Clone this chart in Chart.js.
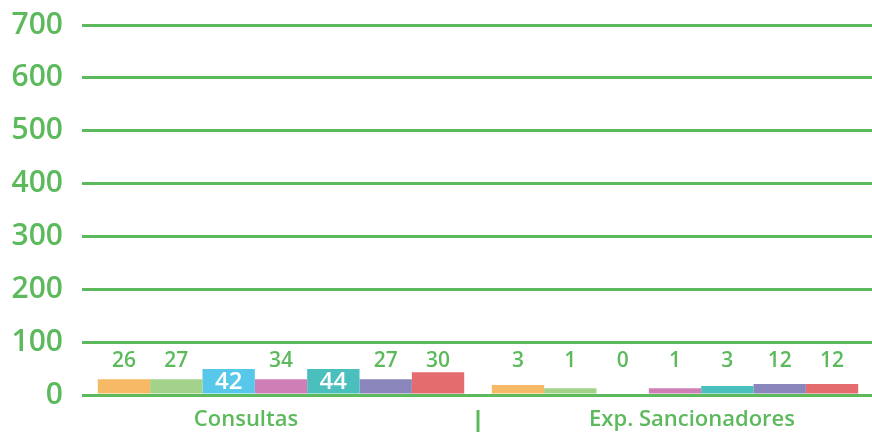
<!DOCTYPE html>
<html>
<head>
<meta charset="utf-8">
<script src="https://cdn.jsdelivr.net/npm/chart.js@4/dist/chart.umd.min.js"></script>
<style>
  html, body { margin: 0; padding: 0; background: #fff; }
  #wrap { width: 872px; height: 435px; }
</style>
</head>
<body>
<div id="wrap"><canvas id="chart"></canvas></div>
<script>
const categories = ["Consultas", "Exp. Sancionadores"];
const seriesNames = ["S1", "S2", "S3", "S4", "S5", "S6", "S7"];
const seriesColors = ["#f6b966", "#a3d38a", "#57c8ea", "#cf7fb6", "#4bbfbd", "#8a86bc", "#e46b6e"];
// bar heights as drawn in the picture (axis units)
const barValues = [
  [30, 19],
  [30, 13],
  [49, 0],
  [30, 13],
  [49, 17],
  [30, 21],
  [43, 21]
];
// numbers printed over the bars
const shownValues = [
  [26, 3],
  [27, 1],
  [42, 0],
  [34, 1],
  [44, 3],
  [27, 12],
  [30, 12]
];
const yTicks = [0, 100, 200, 300, 400, 500, 600, 700];

const green = "#5cba5c";
const font = "Open Sans";
const catShift = [-35, 17]; // category labels sit off-centre in the original

const labelPlugin = {
  id: "barLabels",
  afterDatasetsDraw(chart) {
    const ctx = chart.ctx;
    const y = chart.scales.y;
    const x = chart.scales.x;
    ctx.save();
    ctx.textAlign = "center";
    ctx.textBaseline = "middle";
    chart.data.datasets.forEach((ds, i) => {
      const meta = chart.getDatasetMeta(i);
      meta.data.forEach((bar, j) => {
        const v = shownValues[i][j];
        if (v >= 40) {
          ctx.fillStyle = "#ffffff";
          ctx.font = "600 24px " + font;
          ctx.fillText(String(v), bar.x, (bar.y + bar.base) / 2 + 1);
        } else {
          ctx.fillStyle = green;
          ctx.font = "600 21px " + font;
          ctx.fillText(String(v), bar.x, y.getPixelForValue(64));
        }
      });
    });
    // category names
    ctx.fillStyle = green;
    ctx.font = "600 22px " + font;
    categories.forEach((c, i) => {
      ctx.fillText(c, x.getPixelForValue(i) + catShift[i], y.bottom + 25);
    });
    // separator between categories
    const sx = (x.getPixelForValue(0) + x.getPixelForValue(1)) / 2;
    ctx.strokeStyle = green;
    ctx.lineWidth = 3;
    ctx.beginPath();
    ctx.moveTo(sx, y.bottom + 15);
    ctx.lineTo(sx, y.bottom + 37);
    ctx.stroke();
    ctx.restore();
  }
};

new Chart(document.getElementById("chart"), {
  type: "bar",
  data: {
    labels: categories,
    datasets: seriesNames.map((n, i) => ({
      label: n,
      data: barValues[i],
      backgroundColor: seriesColors[i],
      borderWidth: 0,
      categoryPercentage: 0.93,
      barPercentage: 1.0
    }))
  },
  options: {
    responsive: true,
    maintainAspectRatio: false,
    animation: false,
    layout: { padding: { top: 25, left: 0, right: 0, bottom: 0 } },
    scales: {
      y: {
        min: 0,
        max: 700,
        afterBuildTicks: (axis) => { axis.ticks = yTicks.map(v => ({ value: v })); },
        afterFit: (axis) => { axis.width = 84; axis.paddingTop = 0; axis.paddingBottom = 0; },
        border: { display: false },
        grid: { color: green, lineWidth: 3, drawTicks: true, tickLength: 2 },
        ticks: { color: green, font: { family: font, size: 30, weight: "600" }, padding: 19 }
      },
      x: {
        afterFit: (axis) => { axis.height = 40; },
        border: { display: false },
        grid: { display: false },
        ticks: { display: false }
      }
    },
    plugins: {
      legend: { display: false },
      tooltip: { enabled: false }
    }
  },
  plugins: [labelPlugin]
});
</script>
</body>
</html>
